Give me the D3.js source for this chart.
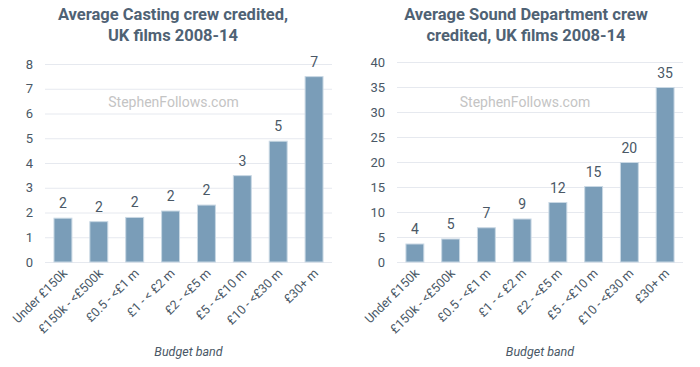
<!DOCTYPE html>
<html>
<head>
<meta charset="utf-8">
<script src="https://cdn.jsdelivr.net/npm/d3@7"></script>
<style>
  body { margin: 0; background: #fff; }
  svg { display: block; font-family: Roboto, "Noto Sans", sans-serif; }
</style>
</head>
<body>
<svg id="chart" width="700" height="367"></svg>
<script>
const bands = ['Under £150k', '£150k - <£500k', '£0.5 - <£1 m', '£1 - < £2 m', '£2 - <£5 m', '£5 - <£10 m', '£10 - <£30 m', '£30+ m'];
const castingValues = [1.77, 1.63, 1.8, 2.06, 2.3, 3.49, 4.88, 7.49];
const soundValues = [3.6, 4.6, 6.85, 8.6, 11.9, 15.1, 19.9, 34.9];
const castingTicks = [0, 1, 2, 3, 4, 5, 6, 7, 8];
const soundTicks = [0, 5, 10, 15, 20, 25, 30, 35, 40];

const svg = d3.select('#chart');

function drawPanel(opts) {
  const { left, right, top, bottom, values, ticks, title, titleX } = opts;
  const g = svg.append('g');

  const x = d3.scaleBand()
    .domain(bands)
    .range([left, right])
    .paddingInner(0.5)
    .paddingOuter(0.25);

  const y = d3.scaleLinear()
    .domain([0, d3.max(ticks)])
    .range([bottom, top]);

  // title
  const t = g.append('text')
    .attr('text-anchor', 'middle')
    .attr('font-weight', 'bold')
    .attr('font-size', 16.5)
    .attr('fill', '#4f6274');
  title.forEach((line, i) => {
    t.append('tspan')
      .attr('x', titleX)
      .attr('y', 20 + i * 21)
      .text(line);
  });

  // gridlines
  g.selectAll('.grid')
    .data(ticks)
    .enter()
    .append('line')
    .attr('x1', left)
    .attr('x2', right)
    .attr('y1', d => y(d) + 0.5)
    .attr('y2', d => y(d) + 0.5)
    .attr('stroke', '#e6e9ef')
    .attr('stroke-width', 1);

  // y labels
  g.selectAll('.ylab')
    .data(ticks)
    .enter()
    .append('text')
    .attr('x', left - 12)
    .attr('y', d => y(d))
    .attr('dy', '0.35em')
    .attr('text-anchor', 'end')
    .attr('font-size', 13)
    .attr('fill', '#4a5866')
    .text(d => d);

  // watermark
  g.append('text')
    .attr('x', (left + right) / 2 - 15)
    .attr('y', 107)
    .attr('text-anchor', 'middle')
    .attr('font-size', 14)
    .attr('fill', '#c4c4c4')
    .text('StephenFollows.com');

  // bars
  g.selectAll('.bar')
    .data(values)
    .enter()
    .append('rect')
    .attr('x', (d, i) => x(bands[i]))
    .attr('y', d => y(d))
    .attr('width', x.bandwidth())
    .attr('height', d => bottom - y(d))
    .attr('fill', '#7a9db8')
    .attr('stroke', '#c9d8e4')
    .attr('stroke-width', 1);

  // value labels
  g.selectAll('.vlab')
    .data(values)
    .enter()
    .append('text')
    .attr('x', (d, i) => x(bands[i]) + x.bandwidth() / 2)
    .attr('y', d => y(d) - 10)
    .attr('text-anchor', 'middle')
    .attr('font-size', 14)
    .attr('fill', '#4a5866')
    .text(d => Math.round(d));

  // x labels
  g.selectAll('.xlab')
    .data(bands)
    .enter()
    .append('text')
    .attr('transform', d => `translate(${x(d) + x.bandwidth() / 2 + 5},${bottom + 12}) rotate(-45)`)
    .attr('text-anchor', 'end')
    .attr('font-size', 12.5)
    .attr('fill', '#4a5866')
    .text(d => d);

  // axis title
  g.append('text')
    .attr('x', (left + right) / 2)
    .attr('y', 356)
    .attr('text-anchor', 'middle')
    .attr('font-size', 12.5)
    .attr('font-style', 'italic')
    .attr('fill', '#4a5866')
    .text('Budget band');
}

drawPanel({
  left: 45, right: 332, top: 64, bottom: 262, titleX: 173,
  values: castingValues, ticks: castingTicks,
  title: ['Average Casting crew credited,', 'UK films 2008-14']
});

drawPanel({
  left: 397, right: 683, top: 62, bottom: 262, titleX: 526,
  values: soundValues, ticks: soundTicks,
  title: ['Average Sound Department crew', 'credited, UK films 2008-14']
});
</script>
</body>
</html>
